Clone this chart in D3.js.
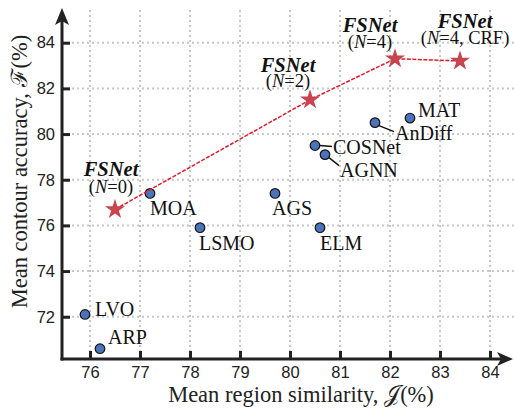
<!DOCTYPE html>
<html>
<head>
<meta charset="utf-8">
<script src="https://cdn.jsdelivr.net/npm/d3@7"></script>
<style>
  body { margin: 0; background: #fff; }
  svg { display: block; }
  .tick text { font-family: "Liberation Sans", Arial, sans-serif; font-size: 16.5px; fill: #222; }
  .lbl { font-family: "Liberation Serif", "Times New Roman", serif; font-size: 20px; fill: #111; }
  .title { font-family: "Liberation Serif", "Times New Roman", serif; font-size: 22.5px; fill: #222; }
</style>
</head>
<body>
<svg id="chart" width="514" height="409"></svg>
<script>
// other methods
const methods = ["LVO", "ARP", "MOA", "LSMO", "AGS", "ELM", "COSNet", "AGNN", "AnDiff", "MAT"];
const methodJ = [75.9, 76.2, 77.2, 78.2, 79.7, 80.6, 80.5, 80.7, 81.7, 82.4];
const methodF = [72.1, 70.6, 77.4, 75.9, 77.4, 75.9, 79.5, 79.1, 80.5, 80.7];

// FSNet variants
const fsnetNames = ["N=0", "N=2", "N=4", "N=4, CRF"];
const fsnetJ = [76.5, 80.4, 82.1, 83.4];
const fsnetF = [76.7, 81.5, 83.3, 83.2];

const xTicks = [76, 77, 78, 79, 80, 81, 82, 83, 84];
const yTicks = [72, 74, 76, 78, 80, 82, 84];

// label placement (pixels from the marker)
const labelOffset = {
  LVO: [10, 2], ARP: [8, -5], MOA: [0, 22], LSMO: [-1, 22], AGS: [-3, 22],
  ELM: [0, 22], COSNet: [18, 8.5], AGNN: [15, 22], AnDiff: [20, 17.5], MAT: [8, -1]
};
const leader = { COSNet: [[5, 0], [17, 1]], AGNN: [[4, 3], [14, 11]], AnDiff: [[4, 3], [19, 9]] };
const fsOffset = [[-4, -33, -16], [-22, -28, -13], [-25, -27, -11], [5, -33, -17]];

const svg = d3.select("#chart");
const x = d3.scaleLinear().domain([75.44, 84.46]).range([62, 513]);
const y = d3.scaleLinear().domain([70.15, 85.52]).range([359, 8]);
const x0 = x.range()[0], y0 = y.range()[0];

// grid
svg.append("g").selectAll("line").data(xTicks).join("line")
  .attr("x1", d => x(d)).attr("x2", d => x(d))
  .attr("y1", y.range()[1] + 2).attr("y2", y0)
  .attr("stroke", "#c8c8c8").attr("stroke-width", 2).attr("stroke-dasharray", "2,3");
svg.append("g").selectAll("line").data(yTicks).join("line")
  .attr("x1", x0).attr("x2", 514)
  .attr("y1", d => y(d)).attr("y2", d => y(d))
  .attr("stroke", "#c8c8c8").attr("stroke-width", 2).attr("stroke-dasharray", "2,3");

// axes
const xAxis = svg.append("g").attr("transform", `translate(0,${y0})`)
  .call(d3.axisBottom(x).tickValues(xTicks).tickSize(-8).tickPadding(7));
const yAxis = svg.append("g").attr("transform", `translate(${x0},0)`)
  .call(d3.axisLeft(y).tickValues(yTicks).tickSize(-8).tickPadding(7));
[xAxis, yAxis].forEach(a => {
  a.select(".domain").remove();
  a.selectAll(".tick line").attr("stroke", "#222").attr("stroke-width", 3);
});

svg.append("line").attr("x1", x0 - 1.5).attr("x2", x.range()[1] - 8)
  .attr("y1", y0).attr("y2", y0).attr("stroke", "#222").attr("stroke-width", 3);
svg.append("line").attr("x1", x0).attr("x2", x0)
  .attr("y1", y0 + 1.5).attr("y2", y.range()[1] + 8).attr("stroke", "#222").attr("stroke-width", 3);
const xe = x.range()[1], ye = y.range()[1];
svg.append("path").attr("fill", "#222")
  .attr("d", `M${xe},${y0} L${xe - 16},${y0 - 7} L${xe - 12},${y0} L${xe - 16},${y0 + 7}Z`);
svg.append("path").attr("fill", "#222")
  .attr("d", `M${x0},${ye} L${x0 - 7},${ye + 17} L${x0},${ye + 13} L${x0 + 7},${ye + 17}Z`);

// leader lines
svg.append("g").selectAll("line").data(methods.filter(m => leader[m])).join("line")
  .attr("x1", m => x(methodJ[methods.indexOf(m)]) + leader[m][0][0])
  .attr("y1", m => y(methodF[methods.indexOf(m)]) + leader[m][0][1])
  .attr("x2", m => x(methodJ[methods.indexOf(m)]) + leader[m][1][0])
  .attr("y2", m => y(methodF[methods.indexOf(m)]) + leader[m][1][1])
  .attr("stroke", "#111").attr("stroke-width", 1.5);

// method points
svg.append("g").selectAll("circle").data(methods).join("circle")
  .attr("cx", (d, i) => x(methodJ[i])).attr("cy", (d, i) => y(methodF[i]))
  .attr("r", 4.8).attr("fill", "#4a73b9").attr("stroke", "#111").attr("stroke-width", 1.2);
svg.append("g").selectAll("text").data(methods).join("text").attr("class", "lbl")
  .attr("x", (d, i) => x(methodJ[i]) + labelOffset[d][0])
  .attr("y", (d, i) => y(methodF[i]) + labelOffset[d][1])
  .text(d => d);

// FSNet line + stars
const line = d3.line().x(d => x(d[0])).y(d => y(d[1]));
svg.append("path").datum(fsnetJ.map((v, i) => [v, fsnetF[i]]))
  .attr("d", line).attr("fill", "none").attr("stroke", "#e8192c")
  .attr("stroke-width", 1.5).attr("stroke-dasharray", "4,1.5");
const star = d3.symbol().type(d3.symbolStar).size(125);
svg.append("g").selectAll("path").data(fsnetNames).join("path")
  .attr("transform", (d, i) => `translate(${x(fsnetJ[i])},${y(fsnetF[i])})`)
  .attr("d", star).attr("fill", "#c8454f");

const fl = svg.append("g").selectAll("g").data(fsnetNames).join("g")
  .attr("transform", (d, i) => `translate(${x(fsnetJ[i]) + fsOffset[i][0]},${y(fsnetF[i])})`);
fl.append("text").attr("class", "lbl").attr("text-anchor", "middle")
  .attr("y", (d, i) => fsOffset[i][1])
  .style("font-weight", "bold").style("font-style", "italic").style("font-size", "20.5px")
  .text("FSNet");
fl.append("text").attr("class", "lbl").attr("text-anchor", "middle")
  .attr("y", (d, i) => fsOffset[i][2]).style("font-size", "18.5px")
  .each(function(d) {
    const t = d3.select(this);
    t.append("tspan").text("(");
    t.append("tspan").style("font-style", "italic").text("N");
    t.append("tspan").text(d.slice(1) + ")");
  });

// axis titles
const xt = svg.append("text").attr("class", "title").attr("text-anchor", "middle")
  .attr("x", 301).attr("y", 402);
xt.append("tspan").text("Mean region similarity, ");
xt.append("tspan").text("\u{1D4A5}");
xt.append("tspan").text("(%)");
const yt = svg.append("text").attr("class", "title").attr("text-anchor", "middle")
  .attr("transform", "translate(27,171.5) rotate(-90)");
yt.append("tspan").text("Mean contour accuracy, ");
yt.append("tspan").text("\u2131");
yt.append("tspan").text("(%)");
</script>
</body>
</html>
